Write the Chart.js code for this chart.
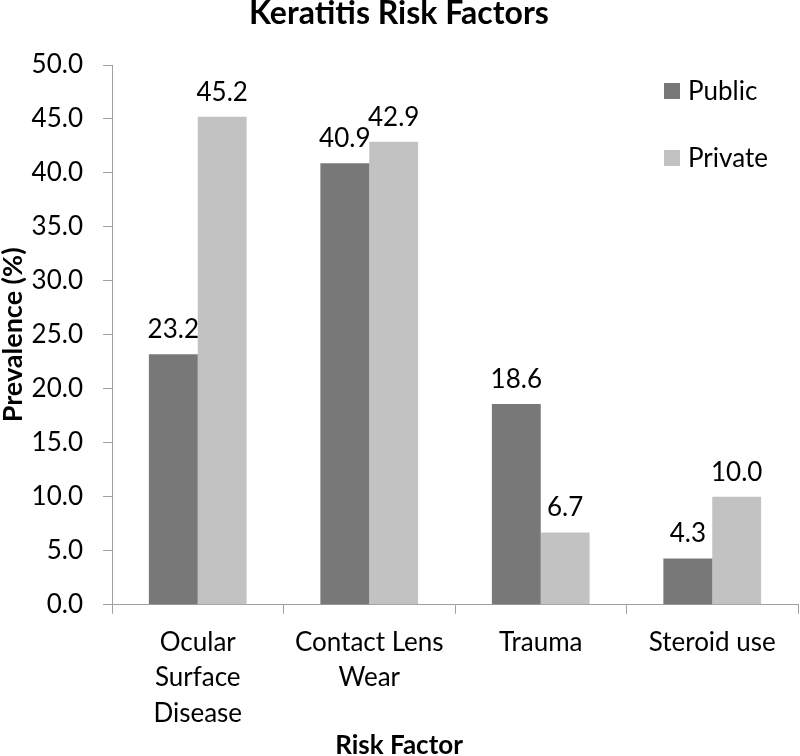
<!DOCTYPE html>
<html>
<head>
<meta charset="utf-8">
<script src="https://cdn.jsdelivr.net/npm/chart.js@4.4.1/dist/chart.umd.min.js"></script>
<style>
  html, body { margin: 0; padding: 0; background: #ffffff; }
  #wrap { width: 800px; height: 756px; }
</style>
</head>
<body>
<div id="wrap"><canvas id="chart"></canvas></div>
<script>
// categories on the x axis
const categories = [['Ocular', 'Surface', 'Disease'], ['Contact Lens', 'Wear'], 'Trauma', 'Steroid use'];
// series values (prevalence %)
const publicValues = [23.2, 40.9, 18.6, 4.3];
const privateValues = [45.2, 42.9, 6.7, 10.0];
// series names and colours
const seriesNames = ['Public', 'Private'];
const seriesColors = ['#787878', '#c2c2c2'];

const FONT = 'Lato, "Open Sans", sans-serif';
const axisGray = '#a0a0a0';

// value labels above each bar
const valueLabels = {
	id: 'valueLabels',
	afterDatasetsDraw(chart) {
		const ctx = chart.ctx;
		ctx.save();
		ctx.font = '26px ' + FONT;
		ctx.fillStyle = '#000';
		ctx.textAlign = 'center';
		ctx.textBaseline = 'alphabetic';
		chart.data.datasets.forEach((ds, i) => {
			chart.getDatasetMeta(i).data.forEach((bar, j) => {
				ctx.fillText(ds.data[j].toFixed(1), bar.x, bar.y - 16);
			});
		});
		ctx.restore();
	},
};

// legend drawn inside the plot area at the top right
const insideLegend = {
	id: 'insideLegend',
	afterDraw(chart) {
		const ctx = chart.ctx;
		ctx.save();
		ctx.font = '26px ' + FONT;
		ctx.textBaseline = 'middle';
		ctx.textAlign = 'left';
		chart.data.datasets.forEach((ds, i) => {
			const y = 91 + i * 67;
			ctx.fillStyle = ds.backgroundColor;
			ctx.fillRect(664, y - 8, 16, 16);
			ctx.fillStyle = '#000';
			ctx.fillText(ds.label, 688, y + 1);
		});
		ctx.restore();
	},
};

new Chart(document.getElementById('chart'), {
	type: 'bar',
	plugins: [valueLabels, insideLegend],
	data: {
		labels: categories,
		datasets: [
			{ label: seriesNames[0], data: publicValues, backgroundColor: seriesColors[0] },
			{ label: seriesNames[1], data: privateValues, backgroundColor: seriesColors[1] },
		],
	},
	options: {
		responsive: true,
		maintainAspectRatio: false,
		animation: false,
		layout: { padding: { left: 0, right: 2, top: 0, bottom: 0 } },
		datasets: {
			bar: { categoryPercentage: 0.57, barPercentage: 1.0 },
		},
		plugins: {
			legend: { display: false },
			tooltip: { enabled: false },
			title: {
				display: true,
				text: 'Keratitis Risk Factors',
				color: '#000',
				font: { family: FONT, size: 32, weight: 'bold' },
				padding: { top: -6, bottom: 32.6 },
			},
			subtitle: {
				display: true,
				position: 'bottom',
				text: 'Risk Factor',
				color: '#000',
				font: { family: FONT, size: 26, weight: 'bold' },
				padding: { top: 0, bottom: -5 },
			},
		},
		scales: {
			x: {
				grid: { display: true, drawOnChartArea: false, color: axisGray, tickLength: 9 },
				border: { display: true, color: axisGray },
				ticks: {
					color: '#000',
					font: { family: FONT, size: 26, lineHeight: 1.365 },
					padding: 11,
					maxRotation: 0,
					autoSkip: false,
				},
				afterFit(scale) { scale.height = 125; },
			},
			y: {
				min: 0,
				max: 50,
				grid: { display: true, drawOnChartArea: false, color: axisGray, tickLength: 9 },
				border: { display: true, color: axisGray },
				ticks: {
					stepSize: 5,
					color: '#000',
					font: { family: FONT, size: 26 },
					padding: 20,
					callback: (v) => v.toFixed(1),
				},
				title: {
					display: true,
					text: 'Prevalence (%)',
					color: '#000',
					font: { family: FONT, size: 27, weight: 'bold' },
					padding: { top: -3, bottom: 0 },
				},
				afterFit(scale) { scale.width = 112; },
			},
		},
	},
});
</script>
</body>
</html>
